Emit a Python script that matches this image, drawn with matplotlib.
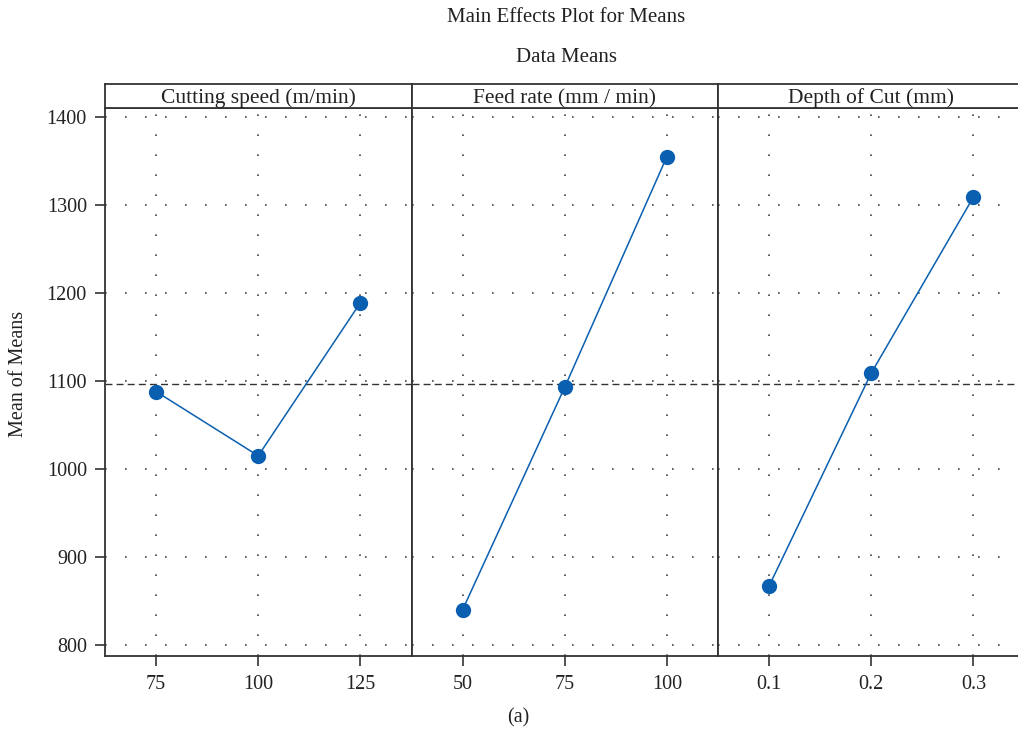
import matplotlib.pyplot as plt
import numpy as np

plt.rcParams["font.family"] = ["Liberation Serif", "DejaVu Serif"]

# main effects: factor levels and mean response at each level
factors = ["Cutting speed (m/min)", "Feed rate (mm / min)", "Depth of Cut (mm)"]
speed_levels = ["75", "100", "125"]
speed_means = [1088, 1015, 1189]
feed_levels = ["50", "75", "100"]
feed_means = [840, 1093, 1355]
depth_levels = ["0.1", "0.2", "0.3"]
depth_means = [867, 1109, 1309]
y_ticks = [800, 900, 1000, 1100, 1200, 1300, 1400]

levels = [speed_levels, feed_levels, depth_levels]
means = [speed_means, feed_means, depth_means]
grand_mean = np.mean(np.concatenate(means))

W, H = 1018, 734
fig = plt.figure(figsize=(W / 100, H / 100), dpi=100)

blue = "#0a5fb0"
edge = "#333333"
txt = "#222222"
left, panel_w = 105, 306.5
top_strip, top_plot, bottom = 84, 108, 656

for i in range(3):
    x0 = left + i * panel_w
    ax = fig.add_axes([x0 / W, 1 - bottom / H, panel_w / W, (bottom - top_plot) / H])
    hdr = fig.add_axes([x0 / W, 1 - top_plot / H, panel_w / W, (top_plot - top_strip) / H])

    hdr.set_xticks([])
    hdr.set_yticks([])
    for s in hdr.spines.values():
        s.set_color(edge)
        s.set_linewidth(1.3)
    hdr.text(0.5, 0.40, factors[i], ha="center", va="center", fontsize=15.5,
             color=txt, transform=hdr.transAxes)

    pos = np.arange(1, 4)
    ax.set_xlim(0.5, 3.5)
    ax.set_ylim(787.5, 1410.2)
    ax.set_xticks(pos)
    ax.set_xticklabels(levels[i])
    ax.set_yticks(y_ticks)
    ax.grid(True, color="#444444", linestyle=(0, (1, 11)), linewidth=1.2)
    ax.set_axisbelow(True)
    ax.axhline(grand_mean, color="#333333", linestyle=(0, (5, 3)), linewidth=1.0)
    ax.plot(pos, means[i], color=blue, linewidth=1.1, marker="o",
            markersize=10, markerfacecolor=blue, markeredgecolor=blue, zorder=3)

    for s in ax.spines.values():
        s.set_color(edge)
        s.set_linewidth(1.3)
    ax.tick_params(direction="out", length=7, width=1.2, color=edge,
                   labelsize=14.5, labelcolor=txt, pad=7)
    ax.tick_params(axis="y", pad=6)
    if i > 0:
        ax.tick_params(axis="y", left=False, labelleft=False)
    else:
        ax.set_ylabel("Mean of Means", fontsize=14.5, color=txt)
        ax.yaxis.set_label_coords((28 - x0) / panel_w, (bottom - 374) / (bottom - top_plot))
    if i == 2:
        # last panel runs past the right edge of the figure
        ax.spines["right"].set_visible(False)
        hdr.spines["right"].set_visible(False)

fig.text(566 / W, 1 - 18 / H, "Main Effects Plot for Means", ha="center",
         va="center", fontsize=15, color=txt)
fig.text(566 / W, 1 - 57 / H, "Data Means", ha="center", va="center",
         fontsize=15, color=txt)
fig.text(518 / W, 1 - 718 / H, "(a)", ha="center", va="center",
         fontsize=14.5, color=txt)

fig.savefig("out.png", dpi=100)
